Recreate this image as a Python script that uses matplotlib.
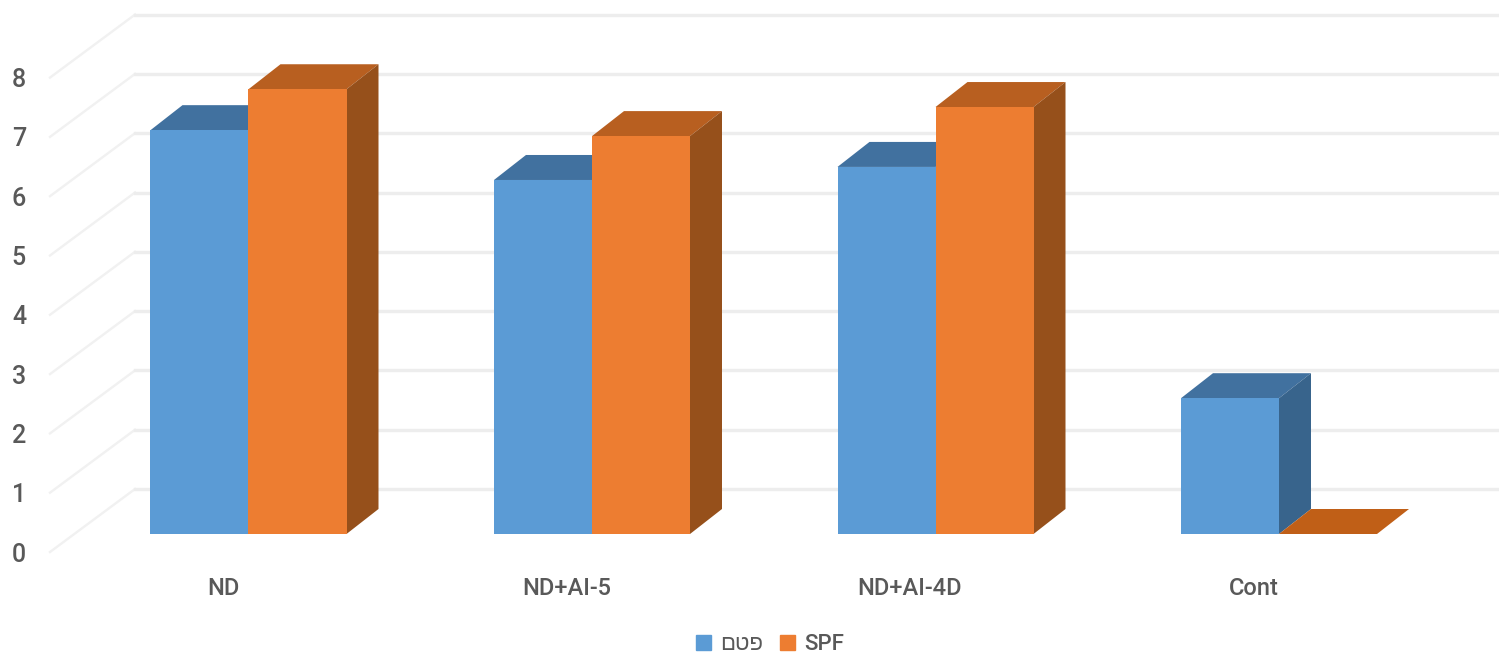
import matplotlib
matplotlib.use('Agg')
import matplotlib.pyplot as plt
from matplotlib.patches import Polygon, Patch

categories = ['ND', 'ND+AI-5', 'ND+AI-4D', 'Cont']
series_a = [6.81, 5.97, 6.19, 2.29]
series_b = [7.50, 6.71, 7.20, 0.0]
y_ticks = [0, 1, 2, 3, 4, 5, 6, 7, 8]
# matplotlib has no bidi support, so the Hebrew name is stored in visual order
legend_a = 'םטפ'
legend_b = 'SPF'

W, H = 1499, 655
px_x = 343.5      # pixels per category
px_y = 59.3       # pixels per unit
x0 = 248.5        # pixel x of first group centre
y0 = 534          # pixel y of the bar base

BLUE = ('#5B9BD5', '#41719F', '#38648C')
ORANGE = ('#ED7D31', '#B85F20', '#96501B')
FLAT_TOP = '#C05F17'
GRID = '#EDEDED'
SIDE_GRID = '#F1F1F1'
TEXT = '#595959'

plt.rcParams['font.family'] = ['Roboto', 'Liberation Sans', 'DejaVu Sans']
plt.rcParams['font.weight'] = 500

fig = plt.figure(figsize=(W / 100, H / 100), dpi=100)
ax = fig.add_axes([0, 0, 1, 1])
ax.set_xlim(-x0 / px_x, (W - x0) / px_x)
ax.set_ylim((y0 - H) / px_y, y0 / px_y)
ax.axis('off')

bar_w = 98 / px_x
dep_x = 32 / px_x
dep_y = 25 / px_y

# back wall and side wall gridlines
wall_up = 45 / px_y
wall_left = (135 - x0) / px_x
side_x = (50 - x0) / px_x
side_drop = 18 / px_y
for v in y_ticks:
    ax.plot([side_x, wall_left], [v - side_drop, v + wall_up],
            color=SIDE_GRID, lw=1.7, zorder=1)
    ax.plot([wall_left, W / px_x], [v + wall_up, v + wall_up],
            color=GRID, lw=2.4, zorder=1)
    ax.text((19 - x0) / px_x, v - 20.5 / px_y, str(v), color=TEXT, fontsize=18,
            ha='center', va='center', zorder=5)


def box(left, value, colors, z):
    right = left + bar_w
    top = colors[1] if value > 0 else FLAT_TOP
    ax.bar(left, value, bar_w, align='edge', color=colors[0], lw=0, zorder=z + 0.2)
    ax.add_patch(Polygon([(left, value), (left + dep_x, value + dep_y),
                          (right + dep_x, value + dep_y), (right, value)],
                         color=top, lw=0, zorder=z))
    ax.add_patch(Polygon([(right, 0), (right + dep_x, dep_y),
                          (right + dep_x, value + dep_y), (right, value)],
                         color=colors[2], lw=0, zorder=z + 0.1))


for i, (a, b) in enumerate(zip(series_a, series_b)):
    box(i - bar_w, a, BLUE, 2)
    box(i, b, ORANGE, 3 if b > 0 else 2.5)
    ax.text(i - 25.5 / px_x, -54.5 / px_y, categories[i], color=TEXT, fontsize=17,
            ha='center', va='center', zorder=5)

handles = [Patch(color=BLUE[0], label=legend_a), Patch(color=ORANGE[0], label=legend_b)]
ax.legend(handles=handles, loc='center', bbox_to_anchor=(770 / W, 1 - 645 / H),
          ncol=2, frameon=False, fontsize=16, labelcolor=TEXT, handlelength=0.68,
          handleheight=0.68, handletextpad=0.4, columnspacing=0.75, borderpad=0)

fig.savefig('out.png', dpi=100)
